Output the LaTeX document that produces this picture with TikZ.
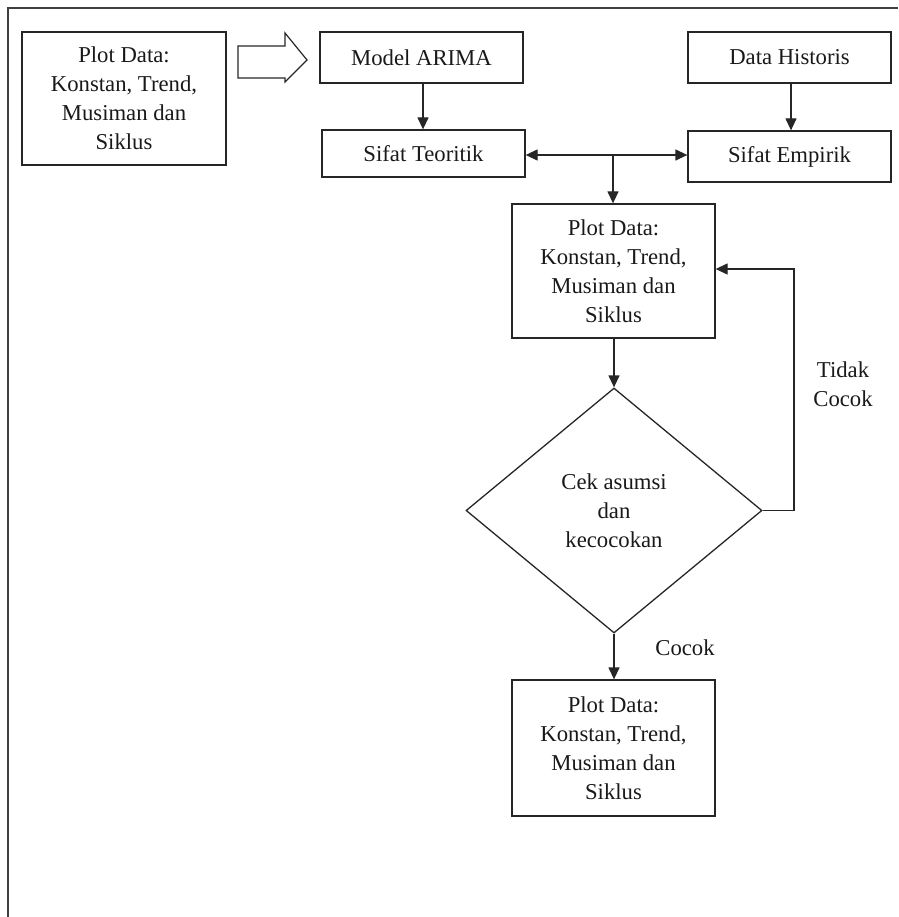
\documentclass[tikz,border=0pt]{standalone}
\usepackage{fontspec}
\setmainfont{Liberation Serif}
\usetikzlibrary{shapes.geometric,arrows.meta}
\begin{document}
\begin{tikzpicture}[x=1pt,y=-1pt,
  every node/.style={font=\fontsize{22.7}{29}\selectfont, text=black!90},
  box/.style={draw=black!85, line width=1.3pt, inner sep=0pt, align=center, minimum width=203pt},
  decide/.style={draw=black!85, line width=1.3pt, diamond, inner sep=0pt, align=center, minimum width=296pt, minimum height=245pt},
  arr/.style={draw=black!85, line width=1.3pt, -{Triangle[length=12pt,width=11pt]}},
  lbl/.style={align=center}]
\useasboundingbox (0,0) rectangle (898,917);
% frame
\draw[black!75, line width=1.5pt] (898,8) -- (8,8) -- (8,917);
% nodes
\node[box, minimum width=204pt, minimum height=133pt] (a) at (124,98.5) {Plot Data:\\Konstan, Trend,\\Musiman dan\\Siklus};
\node[box, minimum height=51pt] (arima) at (421.5,57.5) {Model ARIMA};
\node[box, minimum height=47pt] (teo) at (423.5,153.5) {Sifat Teoritik};
\node[box, minimum height=51pt] (hist) at (789.5,57.5) {Data Historis};
\node[box, minimum height=51pt] (emp) at (789.5,156.5) {Sifat Empirik};
\node[box, minimum height=134pt] (mid) at (613.5,271) {Plot Data:\\Konstan, Trend,\\Musiman dan\\Siklus};
\node[decide] (dia) at (614,510.5) {Cek asumsi\\dan\\kecocokan};
\node[box, minimum height=136pt] (bot) at (613.5,748) {Plot Data:\\Konstan, Trend,\\Musiman dan\\Siklus};
\node[lbl] (tc) at (843,384) {Tidak\\Cocok};
\node[lbl] (cc) at (685,648) {Cocok};
% block arrow
\draw[black!85, line width=1.2pt, line join=miter] (238,46) -- (285,46) -- (285,33) -- (307,60) -- (285,82) -- (285,78) -- (238,78) -- cycle;
% connectors
\coordinate (ta) at (423,0);
\draw[arr] (arima.south -| ta) -- (teo.north -| ta);
\coordinate (he) at (791,0);
\draw[arr] (hist.south -| he) -- (emp.north -| he);
\coordinate (j) at (613,155);
\draw[arr] (j) -- (teo.east |- j);
\draw[arr] (j) -- (emp.west |- j);
\draw[arr] (j) -- (j |- mid.north);
\draw[arr] (dia.north |- mid.south) -- (dia.north);
\coordinate (fb) at (794,269);
\draw[arr] (dia.east) -| (fb) -- (mid.east |- fb);
\draw[arr] (dia.south) -- (bot.north -| dia.south);
\end{tikzpicture}
\end{document}
